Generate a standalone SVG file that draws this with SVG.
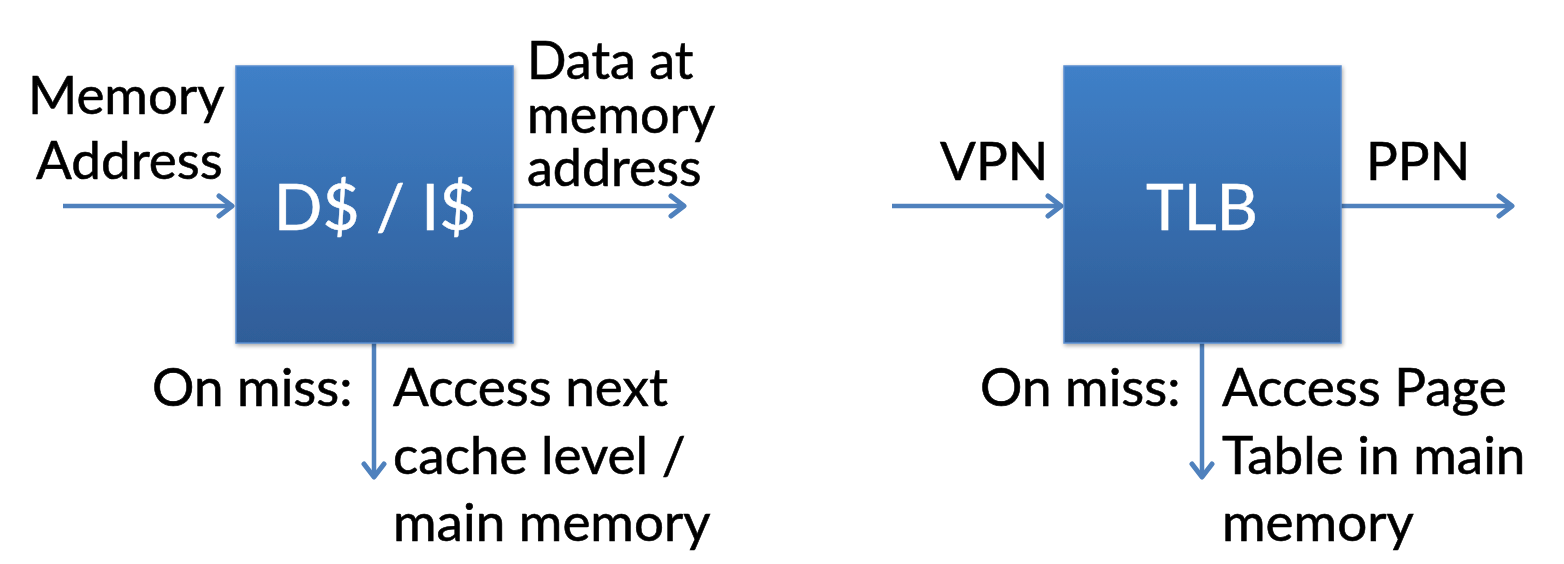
<svg xmlns="http://www.w3.org/2000/svg" width="1564" height="564" viewBox="0 0 1564 564">
<defs>
<linearGradient id="g" x1="0" y1="0" x2="0" y2="1">
<stop offset="0" stop-color="#3F80C8"/>
<stop offset="1" stop-color="#2F5D98"/>
</linearGradient>
<filter id="sh" x="-10%" y="-10%" width="130%" height="130%">
<feGaussianBlur in="SourceAlpha" stdDeviation="2"/>
<feOffset dx="1" dy="2"/>
<feComponentTransfer><feFuncA type="linear" slope="0.35"/></feComponentTransfer>
<feMerge><feMergeNode/><feMergeNode in="SourceGraphic"/></feMerge>
</filter>
<marker id="ah" markerWidth="22" markerHeight="26" refX="17" refY="13" orient="auto" markerUnits="userSpaceOnUse">
<path d="M4,3 L17,13 L4,23" fill="none" stroke="#4F81BD" stroke-width="5" stroke-linecap="round" stroke-linejoin="round"/>
</marker>
</defs>
<style>
.box{fill:url(#g);stroke:#5A8DCF;stroke-width:1.5;filter:url(#sh)}
.lbl{font-family:Lato,"Open Sans",sans-serif;font-size:53px;fill:#000;stroke:#000;stroke-width:0.6}
.in{font-family:Lato,"Open Sans",sans-serif;font-size:64px;fill:#fff;stroke:#fff;stroke-width:0.5;text-anchor:middle}
.c{fill:none;stroke:#4F81BD;stroke-width:4.5;marker-end:url(#ah)}
</style>
<rect width="1564" height="564" fill="#fff"/>
<g id="connectors">
<line class="c" x1="63" y1="206" x2="232" y2="206"/>
<line class="c" x1="513" y1="206" x2="684" y2="206"/>
<line class="c" x1="374" y1="343" x2="374" y2="477"/>
<line class="c" x1="892" y1="206" x2="1061" y2="206"/>
<line class="c" x1="1341" y1="206" x2="1512" y2="206"/>
<line class="c" x1="1202" y1="343" x2="1202" y2="477"/>
</g>
<g id="cache">
<rect class="box" x="236" y="66" width="277" height="277"/>
<text class="in" x="375" y="230">D$ / I$</text>
</g>
<g id="tlb">
<rect class="box" x="1064" y="66" width="277" height="277"/>
<text class="in" x="1202" y="230">TLB</text>
</g>
<g id="labels-cache">
<text class="lbl"><tspan x="28" y="114">Memory</tspan><tspan x="36" y="179">Address</tspan></text>
<text class="lbl" style="font-size:52px"><tspan x="527" y="79">Data at</tspan><tspan x="527" y="133">memory</tspan><tspan x="527" y="186">address</tspan></text>
<text class="lbl" x="152" y="406">On miss:</text>
<text class="lbl"><tspan x="393" y="406">Access next</tspan><tspan x="393" y="474">cache level /</tspan><tspan x="393" y="541">main memory</tspan></text>
</g>
<g id="labels-tlb">
<text class="lbl" x="940" y="180">VPN</text>
<text class="lbl" x="1366" y="180">PPN</text>
<text class="lbl" x="980" y="406">On miss:</text>
<text class="lbl"><tspan x="1222" y="406">Access Page</tspan><tspan x="1222" y="474">Table in main</tspan><tspan x="1222" y="541">memory</tspan></text>
</g>
</svg>
